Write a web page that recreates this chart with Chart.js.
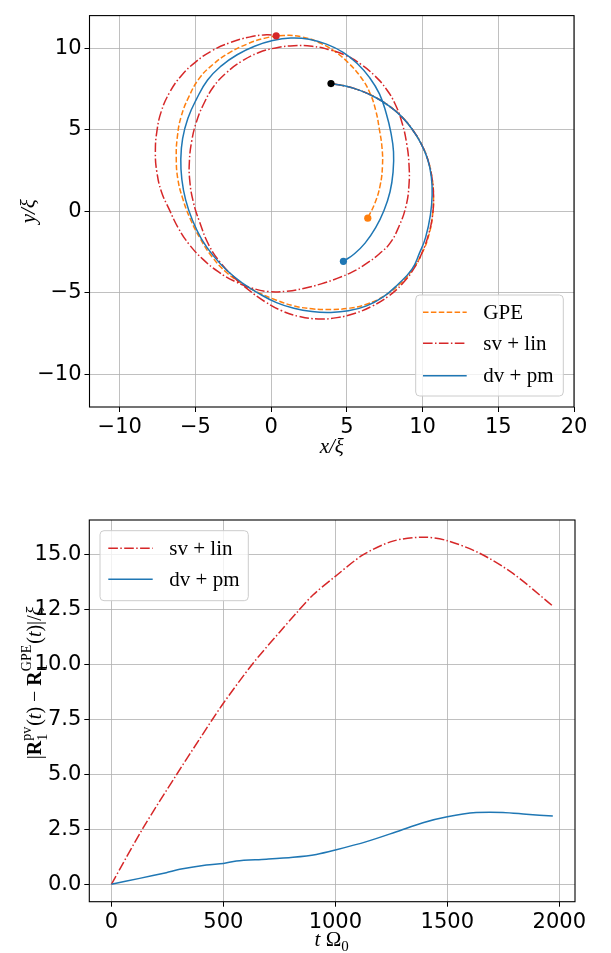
<!DOCTYPE html>
<html><head><meta charset="utf-8">
<script src="https://cdn.jsdelivr.net/npm/chart.js@4.4.0/dist/chart.umd.min.js"></script>
<style>
html,body{margin:0;padding:0;background:#fff;}
#w1{position:absolute;left:0;top:0;width:611px;height:470px;}
#w2{position:absolute;left:0;top:470px;width:611px;height:483px;}
</style></head><body>
<div id="w1"><canvas id="c1"></canvas></div>
<div id="w2"><canvas id="c2"></canvas></div>
<script>
// ---------- Top panel: trajectories (x/ξ, y/ξ) ----------
const gpeX = [3.95,4.9,5.9,6.9,7.8,8.6,9.3,9.9,10.35,10.62,10.72,10.65,10.4,9.95,9.3,8.45,7.45,6.3,5.1,3.9,2.7,1.5,0.35,-0.8,-1.9,-2.95,-3.9,-4.7,-5.35,-5.85,-6.17,-6.27,-6.2,-5.95,-5.45,-4.75,-3.85,-2.8,-1.6,-0.4,0.8,2.0,3.15,4.2,5.1,5.9,6.5,6.9,7.15,7.32,7.35,7.2,6.85,6.38];
const gpeY = [7.83,7.68,7.4,6.98,6.45,5.82,5.05,4.15,3.15,2.05,0.9,-0.3,-1.5,-2.6,-3.6,-4.5,-5.2,-5.7,-5.95,-6.02,-5.98,-5.8,-5.45,-5.0,-4.45,-3.75,-2.8,-1.65,-0.45,0.8,2.0,3.3,4.55,5.8,7.0,8.15,9.0,9.7,10.25,10.62,10.78,10.7,10.35,9.8,9.1,8.25,7.3,6.2,5.0,3.9,2.8,1.6,0.5,-0.42];

const svX = [3.95,4.9,5.9,6.9,7.8,8.6,9.3,9.9,10.35,10.62,10.72,10.65,10.4,9.98,9.4,8.65,7.75,6.7,5.55,4.35,3.1,1.85,0.7,-0.4,-1.45,-2.45,-3.35,-4.1,-4.75,-5.15,-5.38,-5.4,-5.25,-4.95,-4.5,-3.8,-2.95,-1.95,-0.85,0.3,1.5,2.7,3.85,4.95,5.95,6.85,7.6,8.2,8.65,8.95,9.1,9.1,8.9,8.45,7.85,7.15,6.3,5.4,4.4,3.3,2.2,1.0,-0.2,-1.3,-2.4,-3.5,-4.5,-5.4,-6.15,-6.75,-7.25,-7.55,-7.65,-7.55,-7.25,-6.7,-5.95,-5.0,-3.9,-2.7,-1.45,-0.3,0.33];
const svY = [7.83,7.68,7.4,6.98,6.45,5.82,5.05,4.15,3.15,2.05,0.9,-0.3,-1.4,-2.5,-3.55,-4.45,-5.2,-5.8,-6.25,-6.52,-6.6,-6.45,-6.1,-5.55,-4.85,-4.05,-3.15,-2.1,-0.6,0.6,1.9,3.1,4.3,5.45,6.5,7.65,8.5,9.2,9.72,10.02,10.15,10.12,9.9,9.55,9.0,8.3,7.5,6.55,5.4,4.15,2.9,1.6,0.3,-0.9,-1.95,-2.6,-3.2,-3.7,-4.1,-4.45,-4.72,-4.9,-4.92,-4.7,-4.3,-3.7,-2.95,-2.05,-1.0,0.15,1.2,2.4,3.6,4.9,6.15,7.3,8.3,9.15,9.85,10.35,10.68,10.82,10.76];

const dvX = [3.95,4.9,5.9,6.9,7.8,8.6,9.3,9.9,10.35,10.58,10.63,10.52,10.2,9.8,9.3,8.35,7.4,6.3,5.1,3.9,2.7,1.5,0.35,-0.8,-1.9,-2.9,-3.8,-4.6,-5.2,-5.65,-5.9,-5.97,-5.85,-5.5,-4.95,-4.2,-3.25,-2.25,-1.1,0.1,1.3,2.5,3.65,4.75,5.7,6.5,7.15,7.6,7.9,8.08,8.05,7.85,7.45,6.9,6.2,5.5,4.77];
const dvY = [7.83,7.68,7.4,6.98,6.45,5.82,5.05,4.15,3.15,2.1,1.0,-0.2,-1.6,-2.55,-3.55,-4.5,-5.25,-5.8,-6.1,-6.2,-6.15,-5.95,-5.6,-5.05,-4.4,-3.65,-2.75,-1.7,-0.55,0.7,1.95,3.2,4.45,5.7,6.85,8.05,8.95,9.6,10.12,10.47,10.62,10.55,10.25,9.75,9.05,8.2,7.2,6.0,4.85,3.65,2.4,1.2,0.05,-1.0,-1.95,-2.6,-3.07];

const xTicksTop = [-10,-5,0,5,10,15,20];
const yTicksTop = [-10,-5,0,5,10];

// ---------- Bottom panel: deviation from GPE ----------
const tSv   = [0,141,290,400,500,632,750,826,900,1000,1123,1257,1391,1500,1644,1793,1971];
const errSv = [0,2.55,4.97,6.7,8.23,10.04,11.45,12.33,13.15,14.0,14.97,15.6,15.78,15.62,15.05,14.13,12.65];
const tDv   = [0,126,245,305,424,500,558,692,811,915,1000,1139,1273,1391,1500,1629,1748,1852,1971];
const errDv = [0,0.27,0.53,0.68,0.88,0.95,1.06,1.14,1.23,1.36,1.56,1.94,2.39,2.8,3.07,3.26,3.27,3.19,3.1];

const xTicksBottom = [0,500,1000,1500,2000];
const yTicksBottom = [0,2.5,5,7.5,10,12.5,15];

const seriesLabels = ['GPE','sv + lin','dv + pm'];
const C_GPE = '#ff7f0e', C_SV = '#d62728', C_DV = '#1f77b4';
const DASH_GPE = [5.5,2.4], DASH_SV = [9.6,2.4,1.5,2.4], DASH_DV = [];

function pts(xs, ys){ return xs.map((x,i)=>({x:x, y:ys[i]})); }
function last(xs, ys){ return [{x:xs[xs.length-1], y:ys[ys.length-1]}]; }

const TICK_FONT = {family:'"DejaVu Sans"', size:21};
const SERIF = '"Liberation Serif"';

function drawRich(ctx, parts, x, y, rot, align){
  ctx.save();
  ctx.translate(x,y); ctx.rotate(rot);
  ctx.textBaseline = 'alphabetic'; ctx.textAlign = 'left'; ctx.fillStyle = '#000';
  const widths = parts.map(p=>{
    if (p.sf){ ctx.font = p.sf;
      const a = p.sub ? ctx.measureText(p.sub).width : 0;
      const b = p.sup ? ctx.measureText(p.sup).width : 0;
      return Math.max(a,b)+1; }
    ctx.font = p.f; return ctx.measureText(p.t).width;
  });
  const total = widths.reduce((a,b)=>a+b,0);
  let cx = align==='center' ? -total/2 : 0;
  parts.forEach((p,i)=>{
    if (p.sf){ ctx.font = p.sf;
      if (p.sub) ctx.fillText(p.sub, cx, p.dsub);
      if (p.sup) ctx.fillText(p.sup, cx, p.dsup);
    } else { ctx.font = p.f; ctx.fillText(p.t, cx, 0); }
    cx += widths[i];
  });
  ctx.restore();
}

function roundRect(ctx,x,y,w,h,r){
  ctx.beginPath();
  ctx.moveTo(x+r,y); ctx.lineTo(x+w-r,y); ctx.quadraticCurveTo(x+w,y,x+w,y+r);
  ctx.lineTo(x+w,y+h-r); ctx.quadraticCurveTo(x+w,y+h,x+w-r,y+h);
  ctx.lineTo(x+r,y+h); ctx.quadraticCurveTo(x,y+h,x,y+h-r);
  ctx.lineTo(x,y+r); ctx.quadraticCurveTo(x,y,x+r,y); ctx.closePath();
}

function legendPlugin(cfg){
  return { id:'customLegend', afterDraw(chart){
    const ctx = chart.ctx; ctx.save();
    roundRect(ctx, cfg.x, cfg.y, cfg.w, cfg.h, 4);
    ctx.fillStyle = 'rgba(255,255,255,0.8)'; ctx.fill();
    ctx.strokeStyle = '#cccccc'; ctx.lineWidth = 1; ctx.stroke();
    const ds = chart.data.datasets.filter(d=>d.legend);
    ds.sort((a,b)=>a.legend-b.legend);
    ds.forEach((d,i)=>{
      const y = cfg.rows[i];
      ctx.beginPath(); ctx.setLineDash(d.borderDash||[]);
      ctx.strokeStyle = d.borderColor; ctx.lineWidth = 1.5;
      ctx.moveTo(cfg.l0, y); ctx.lineTo(cfg.l1, y); ctx.stroke();
      ctx.setLineDash([]);
      ctx.fillStyle = '#000'; ctx.font = '21px '+SERIF; ctx.textBaseline = 'middle'; ctx.textAlign='left';
      ctx.fillText(d.label, cfg.tx, y+1);
    });
    ctx.restore();
  }};
}

const framePlugin = { id:'frame', afterDatasetsDraw(chart){
  const a = chart.chartArea, ctx = chart.ctx;
  ctx.save(); ctx.strokeStyle = '#000'; ctx.lineWidth = 1.1;
  ctx.strokeRect(a.left, a.top, a.right-a.left, a.bottom-a.top); ctx.restore();
}};

function lineDs(label, xs, ys, color, dash, order, legend, tension){
  return {label, data: pts(xs,ys), showLine:true, borderColor:color, backgroundColor:color,
    borderDash:dash, borderWidth:1.5, pointRadius:0, tension:tension, cubicInterpolationMode:'default',
    order, legend, fill:false};
}
function dotDs(label, p, color){
  return {label, data:p, showLine:false, pointRadius:3.6, pointBackgroundColor:color,
    pointBorderWidth:0, borderColor:color, backgroundColor:color, order:0};
}

function gridOpts(){ return {color:'#b0b0b0', lineWidth:0.8, tickColor:'#000', tickWidth:1, tickLength:5, drawTicks:true}; }
const minus = v => String(v).replace('-', '\u2212');

// ---------- Chart 1 ----------
new Chart(document.getElementById('c1'), {
  type:'line',
  data:{ datasets:[
    dotDs('start', [{x:gpeX[0], y:gpeY[0]}], '#000'),
    dotDs('GPE end', last(gpeX,gpeY), C_GPE),
    dotDs('sv + lin end', last(svX,svY), C_SV),
    dotDs('dv + pm end', last(dvX,dvY), C_DV),
    lineDs(seriesLabels[2], dvX, dvY, C_DV, DASH_DV, 1, 3, 0.45),
    lineDs(seriesLabels[1], svX, svY, C_SV, DASH_SV, 2, 2, 0.45),
    lineDs(seriesLabels[0], gpeX, gpeY, C_GPE, DASH_GPE, 3, 1, 0.45)
  ]},
  options:{
    responsive:true, maintainAspectRatio:false, animation:false, events:[],
    layout:{padding:{top:8, right:37, left:0, bottom:0}},
    plugins:{legend:{display:false}, tooltip:{enabled:false}},
    scales:{
      x:{type:'linear', min:-12, max:20, grid:gridOpts(), border:{display:false},
        afterBuildTicks:s=>{ s.ticks = xTicksTop.map(v=>({value:v})); },
        afterFit:s=>{ s.height = 63; },
        ticks:{font:TICK_FONT, color:'#000', padding:3, maxRotation:0, autoSkip:false, callback:minus},
        title:{display:true, text:'x/ξ', color:'#000', font:{family:SERIF, size:21, style:'italic'}, padding:{top:0,bottom:10}}},
      y:{type:'linear', min:-12, max:12, grid:gridOpts(), border:{display:false},
        afterBuildTicks:s=>{ s.ticks = yTicksTop.map(v=>({value:v})); },
        afterFit:s=>{ s.width = 89.5; },
        ticks:{font:TICK_FONT, color:'#000', padding:3, autoSkip:false, callback:minus},
        title:{display:true, text:'y/ξ', color:'#000', font:{family:SERIF, size:21, style:'italic'}, padding:{top:17,bottom:0}}}
    }
  },
  plugins:[framePlugin, legendPlugin({x:415.7, y:295, w:147.6, h:101, rows:[312.3,343.3,375.7], l0:423, l1:466.7, tx:483.3})]
});

// ---------- Chart 2 ----------
const S = 20;
const fR = S+'px '+SERIF, fB = 'bold '+S+'px '+SERIF, fI = 'italic '+S+'px '+SERIF, fS = Math.round(S*0.7)+'px '+SERIF;
const yLabelParts = [
  {t:'|',f:fR},{t:'R',f:fB},{sub:'1',sup:'pv',sf:fS,dsub:0.3*S,dsup:-0.48*S},
  {t:'(',f:fR},{t:'t',f:fI},{t:')',f:fR},{t:' \u2212 ',f:fR},
  {t:'R',f:fB},{sub:'1',sup:'GPE',sf:fS,dsub:0.3*S,dsup:-0.48*S},
  {t:'(',f:fR},{t:'t',f:fI},{t:')|/',f:fR},{t:'ξ',f:fI}
];
const xLabelParts = [{t:'t',f:'italic 21px '+SERIF},{t:' Ω',f:'21px '+SERIF},{sub:'0',sf:'15px '+SERIF,dsub:5}];
const labels2 = { id:'labels2', afterDraw(chart){
  drawRich(chart.ctx, yLabelParts, 41, 213, -Math.PI/2, 'center');
  const a = chart.chartArea;
  drawRich(chart.ctx, xLabelParts, (a.left+a.right)/2, 476, 0, 'center');
}};

new Chart(document.getElementById('c2'), {
  type:'line',
  data:{ datasets:[
    lineDs(seriesLabels[2], tDv, errDv, C_DV, DASH_DV, 1, 2, 0.3),
    lineDs(seriesLabels[1], tSv, errSv, C_SV, DASH_SV, 2, 1, 0.3)
  ]},
  options:{
    responsive:true, maintainAspectRatio:false, animation:false, events:[],
    layout:{padding:{top:50, right:36, left:0, bottom:0}},
    plugins:{legend:{display:false}, tooltip:{enabled:false}},
    scales:{
      x:{type:'linear', min:-98.6, max:2070, grid:gridOpts(), border:{display:false},
        afterBuildTicks:s=>{ s.ticks = xTicksBottom.map(v=>({value:v})); },
        afterFit:s=>{ s.height = 51.3; },
        ticks:{font:TICK_FONT, color:'#000', padding:3, maxRotation:0, autoSkip:false, callback:v=>String(v)}},
      y:{type:'linear', min:-0.79, max:16.56, grid:gridOpts(), border:{display:false},
        afterBuildTicks:s=>{ s.ticks = yTicksBottom.map(v=>({value:v})); },
        afterFit:s=>{ s.width = 89.3; },
        ticks:{font:TICK_FONT, color:'#000', padding:3, autoSkip:false, callback:v=>v.toFixed(1)}}
    }
  },
  plugins:[framePlugin, labels2, legendPlugin({x:100, y:60.7, w:148.3, h:70, rows:[78.3,109.3], l0:108.3, l1:152.7, tx:169.3})]
});
</script>
</body></html>
